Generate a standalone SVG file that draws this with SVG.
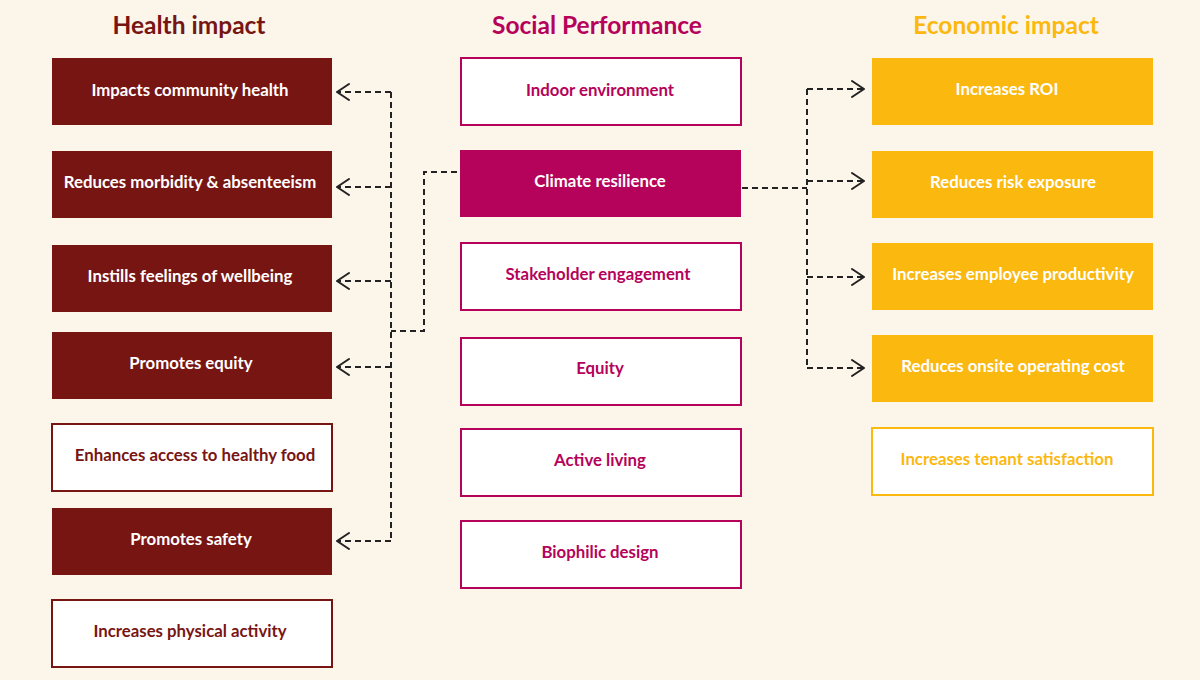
<svg xmlns="http://www.w3.org/2000/svg" width="1200" height="680" viewBox="0 0 1200 680">
<defs>
<style>
.bg{fill:#fcf5ea}
.h{font-family:Lato,"Liberation Sans",sans-serif;font-weight:700;font-size:24.5px;text-anchor:middle}
.t{font-family:Lato,"Liberation Sans",sans-serif;font-weight:700;font-size:16.8px;text-anchor:middle;dominant-baseline:central}
.hf{fill:#771513}
.ho{fill:#fff;stroke:#771513;stroke-width:2}
.sf{fill:#b5025a}
.so{fill:#fff;stroke:#b5025a;stroke-width:2}
.ef{fill:#fbb80f}
.eo{fill:#fff;stroke:#fbb80f;stroke-width:2}
.w{fill:#fff}
.cr{fill:#771513}
.cs{fill:#b5025a}
.ce{fill:#fbb80f}
.c{fill:none;stroke:#222;stroke-width:2;stroke-dasharray:6 4}
.a{fill:none;stroke:#222;stroke-width:2;stroke-linecap:round;stroke-linejoin:round}
</style>
</defs>
<rect class="bg" x="0" y="0" width="1200" height="680"/>
<text class="h cr" x="189" y="34">Health impact</text>
<text class="h cs" x="597" y="34">Social Performance</text>
<text class="h ce" x="1006" y="34">Economic impact</text>

<g id="health-1"><rect class="hf" x="52" y="58" width="280" height="67"/><text class="t w" x="190" y="89.5">Impacts community health</text></g>
<g id="health-2"><rect class="hf" x="52" y="151" width="280" height="67"/><text class="t w" x="190" y="181.5">Reduces morbidity &amp; absenteeism</text></g>
<g id="health-3"><rect class="hf" x="52" y="245" width="280" height="67"/><text class="t w" x="190" y="275.5">Instills feelings of wellbeing</text></g>
<g id="health-4"><rect class="hf" x="52" y="332" width="280" height="67"/><text class="t w" x="191" y="362.5">Promotes equity</text></g>
<g id="health-5"><rect class="ho" x="52" y="424" width="280" height="67"/><text class="t cr" x="195" y="454.5">Enhances access to healthy food</text></g>
<g id="health-6"><rect class="hf" x="52" y="508" width="280" height="67"/><text class="t w" x="191" y="538.5">Promotes safety</text></g>
<g id="health-7"><rect class="ho" x="52" y="600" width="280" height="67"/><text class="t cr" x="190" y="630.5">Increases physical activity</text></g>

<g id="social-1"><rect class="so" x="461" y="58" width="280" height="67"/><text class="t cs" x="600" y="89.5">Indoor environment</text></g>
<g id="social-2"><rect class="sf" x="460" y="150" width="281" height="67"/><text class="t w" x="600" y="180.5">Climate resilience</text></g>
<g id="social-3"><rect class="so" x="461" y="243" width="280" height="67"/><text class="t cs" x="598" y="273.5">Stakeholder engagement</text></g>
<g id="social-4"><rect class="so" x="461" y="338" width="280" height="67"/><text class="t cs" x="600" y="367.5">Equity</text></g>
<g id="social-5"><rect class="so" x="461" y="429" width="280" height="67"/><text class="t cs" x="600" y="459.5">Active living</text></g>
<g id="social-6"><rect class="so" x="461" y="521" width="280" height="67"/><text class="t cs" x="600" y="551.5">Biophilic design</text></g>

<g id="econ-1"><rect class="ef" x="872" y="58" width="281" height="67"/><text class="t w" x="1007" y="88.5">Increases ROI</text></g>
<g id="econ-2"><rect class="ef" x="872" y="151" width="281" height="67"/><text class="t w" x="1013" y="181.5">Reduces risk exposure</text></g>
<g id="econ-3"><rect class="ef" x="872" y="243" width="281" height="67"/><text class="t w" x="1013" y="273.5">Increases employee productivity</text></g>
<g id="econ-4"><rect class="ef" x="872" y="335" width="281" height="67"/><text class="t w" x="1013" y="365.5">Reduces onsite operating cost</text></g>
<g id="econ-5"><rect class="eo" x="872" y="428" width="281" height="67"/><text class="t ce" x="1007" y="458.5">Increases tenant satisfaction</text></g>

<g id="connectors">
<path class="c" d="M457 172 H424 V331 H391"/>
<path class="c" d="M391 92 V541"/>
<path class="c" d="M391 92 H338 M391 187 H338 M391 281 H338 M391 367 H338 M391 541 H338"/>
<path class="a" d="M349 84 L337 92 L349 100 M349 179 L337 187 L349 195 M349 273 L337 281 L349 289 M349 359 L337 367 L349 375 M349 533 L337 541 L349 549"/>
<path class="c" d="M742 188 H807"/>
<path class="c" d="M807 89 V368"/>
<path class="c" d="M807 89 H863 M807 181 H863 M807 277 H863 M807 368 H863"/>
<path class="a" d="M852 81 L864 89 L852 97 M852 173 L864 181 L852 189 M852 269 L864 277 L852 285 M852 360 L864 368 L852 376"/>
</g>
</svg>
